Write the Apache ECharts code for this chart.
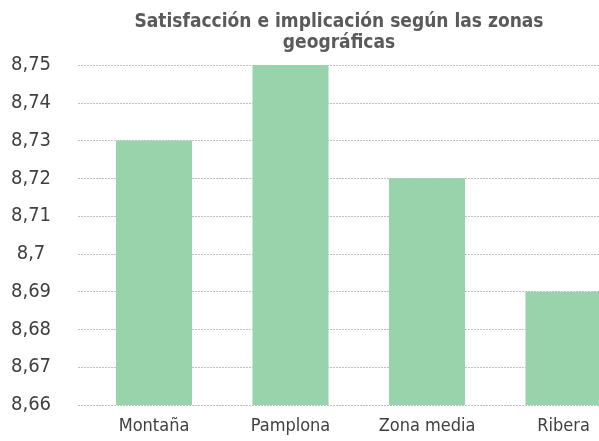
<!DOCTYPE html>
<html>
<head>
<meta charset="utf-8">
<script src="https://cdn.jsdelivr.net/npm/echarts@6/dist/echarts.min.js"></script>
<style>
  html, body { margin: 0; padding: 0; background: #fff; }
  #main { width: 599px; height: 441px; }
</style>
</head>
<body>
<div id="main"></div>
<script>
var categories = ['Montaña', 'Pamplona', 'Zona media', 'Ribera'];
var values = [8.73, 8.75, 8.72, 8.69];
var yMin = 8.66, yMax = 8.75, yStep = 0.01;

var font = "'Liberation Sans Narrow', 'DejaVu Sans Condensed', 'Roboto', sans-serif";

// the original chart is cut on the right, so the x axis runs past the last band
var xData = values.map(function (v, i) { return [i, v]; });

var chartDom = document.getElementById('main');
var myChart = echarts.init(chartDom);
var option;

option = {
  animation: false,
  title: {
    text: 'Satisfacción e implicación según las zonas\ngeográficas',
    left: 334,
    textAlign: 'center',
    top: 7,
    textStyle: {
      fontFamily: font,
      fontWeight: 'bold',
      fontSize: 19,
      lineHeight: 21,
      color: '#5a5a5a'
    }
  },
  grid: {
    left: 78,
    top: 65,
    right: 0,
    height: 340
  },
  xAxis: {
    type: 'value',
    min: -0.557,
    max: 3.26,
    axisLine: { show: false },
    axisTick: { show: false },
    splitLine: { show: false },
    axisLabel: {
      customValues: [0, 1, 2, 3],
      fontFamily: font,
      fontSize: 18,
      color: '#404040',
      margin: 12,
      formatter: function (v) { return categories[Math.round(v)]; }
    }
  },
  yAxis: {
    type: 'value',
    min: yMin,
    max: yMax,
    interval: yStep,
    axisLine: { show: false },
    axisTick: { show: false },
    axisLabel: {
      fontFamily: font,
      fontSize: 20,
      color: '#404040',
      align: 'center',
      margin: 47,
      formatter: function (v) {
        return String(Math.round(v * 100) / 100).replace('.', ',');
      }
    },
    splitLine: {
      lineStyle: { color: '#c0c0c0', type: [2, 1], width: 1 }
    }
  },
  series: [
    {
      type: 'bar',
      data: xData,
      barWidth: 76,
      clip: true,
      itemStyle: { color: '#99d3ac' }
    }
  ]
};

option && myChart.setOption(option);
</script>
</body>
</html>
